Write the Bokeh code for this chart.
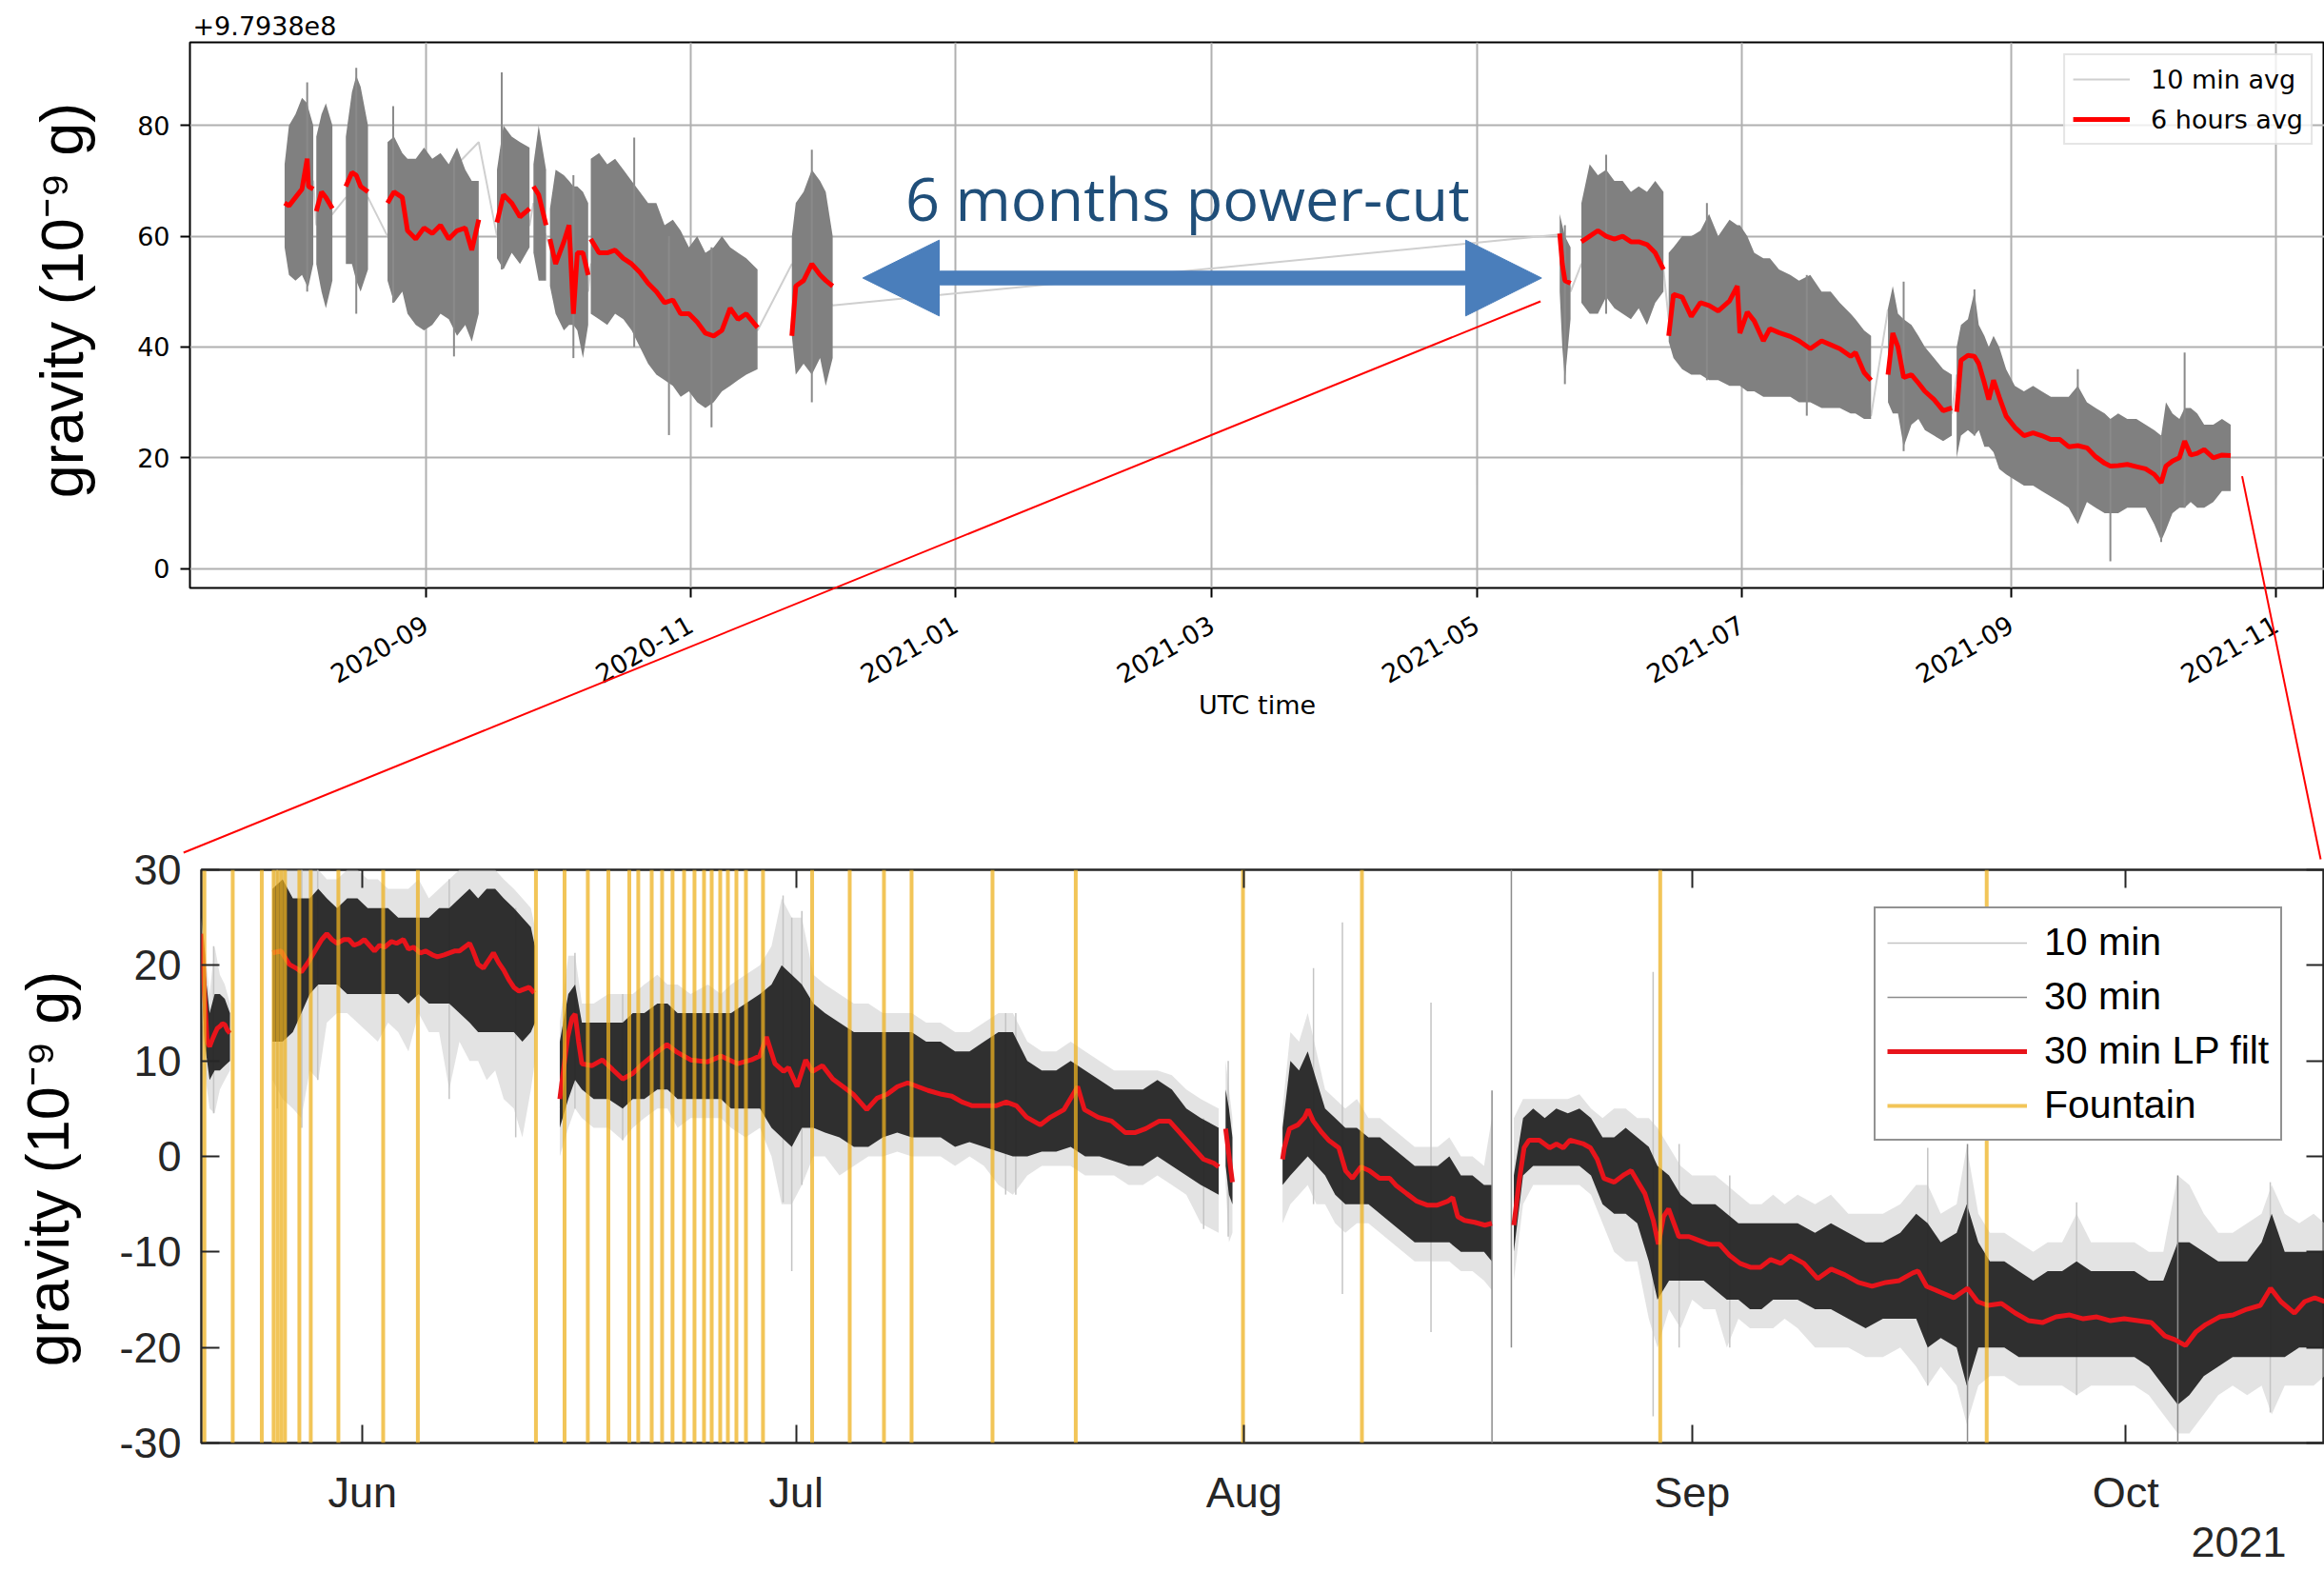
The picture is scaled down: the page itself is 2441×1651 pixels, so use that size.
import math
import numpy as np
from bokeh.plotting import figure
from bokeh.layouts import column
from bokeh.models import (Range1d, FixedTicker, DatetimeTickFormatter, Legend, LegendItem,
                          GridBox, LinearAxis, DatetimeAxis)
from bokeh.embed import file_html
from bokeh.resources import INLINE
from bokeh.core.properties import value

# ======================= TOP PANEL DATA (days since 2020-09-01) =======================
TOP_BASE = "2020-09-01"
top_tick_labels = ["2020-09", "2020-11", "2021-01", "2021-03", "2021-05", "2021-07", "2021-09", "2021-11"]
top_y_ticks = [0, 20, 40, 60, 80]
top_offset_text = "+9.7938e8"

top_day = [
    -32.5, -31.5, -30.0, -28.5, -27.3, -27.0, -25.9, None,
    -25.2, -24.0, -23.0, -21.5, None,
    -18.4, -17.0, -16.0, -15.0, -13.3, None,
    -8.8, -7.3, -5.4, -4.2, -2.3, -0.4, 1.5, 3.4, 5.3, 7.2, 9.1, 10.6, 12.2, None,
    16.4, 17.9, 19.8, 21.7, 23.9, None,
    24.8, 26.0, 27.7, None,
    28.6, 29.9, 31.8, 33.0, 34.0, 34.9, 36.2, 37.4, None,
    38.0, 39.9, 41.8, 43.6, 45.5, 47.4, 49.3, 51.2, 53.1, 55.0, 56.9, 58.7, 60.6, 62.5, 64.4, 66.3, 68.2, 70.1, 71.9, 73.8, 76.4, None,
    84.3, 85.2, 87.0, 88.9, 90.8, 92.1, 93.7, None,
    261.1, 261.7, 262.3, 263.6, None,
    266.1, 268.0, 269.9, 271.8, 273.7, 275.6, 277.5, 279.3, 281.2, 283.1, 285.0, None,
    286.2, 287.3, 289.3, 291.4, 293.5, 295.5, 297.6, 300.2, 302.0, 302.6, 304.3, 305.9, 308.0, 309.5, 311.6, 314.2, 316.2, 318.8, 321.4, 323.5, 325.6, 328.1, 329.2, 331.2, 332.8, None,
    336.7, 337.8, 339.0, 340.3, 342.1, 343.7, 345.2, 347.3, 349.4, 351.4, None,
    352.5, 353.5, 355.1, 356.6, 357.6, 358.9, 359.9, 361.0, 362.3, 363.9, 365.9, 368.0, 370.1, 372.1, 374.2, 376.3, 378.3, 380.4, 382.5, 384.5, 386.6, 387.9, 389.7, 391.8, 393.9, 396.0, 398.0, 399.6, 400.7, 402.2, 403.8, 405.0, 406.4, 407.9, 409.5, 411.6, 413.6, 415.6,
]
top_hi = [
    73, 80, 82, 85, 84, 83, 80, None,
    78, 82, 84, 80, None,
    78, 86, 89, 87, 80, None,
    77, 78, 75, 74, 74, 76, 74, 75, 73, 76, 72, 70, 70, None,
    72, 80, 78, 77, 76, None,
    73, 80, 72, None,
    65, 72, 71, 70, 69, 69, 68, 66, None,
    74, 75, 73, 74, 72, 70, 68, 66, 66, 62, 63, 61, 58, 60, 57, 58, 60, 58, 57, 56, 54, None,
    60, 66, 68, 72, 70, 68, 60, None,
    64, 62, 60, 58, None,
    66, 73, 71, 72, 70, 70, 68, 69, 68, 70, 68, None,
    57, 58, 60, 60, 61, 64, 60, 63, 62, 62, 60, 57, 56, 56, 54, 53, 52, 53, 50, 50, 48, 46, 45, 43, 42, None,
    47, 51, 46, 45, 44, 42, 40, 38, 36, 35, None,
    40, 44, 45, 50, 44, 42, 40, 42, 40, 36, 33, 32, 33, 32, 31, 31, 31, 33, 30, 29, 28, 27, 28, 27, 27, 26, 25, 24, 30, 28, 27, 29, 29, 28, 26, 26, 27, 26,
]
top_lo = [
    58, 53, 52, 53, 51, 51, 55, None,
    55, 50, 47, 52, None,
    55, 55, 52, 50, 54, None,
    52, 48, 50, 46, 44, 43, 44, 46, 45, 42, 44, 41, 46, None,
    56, 54, 57, 55, 58, None,
    57, 52, 52, None,
    51, 46, 43, 44, 44, 43, 38, 44, None,
    46, 45, 44, 46, 45, 43, 40, 37, 35, 34, 33, 31, 32, 30, 29, 30, 32, 33, 34, 35, 36, None,
    42, 35, 37, 35, 38, 33, 38, None,
    50, 40, 34, 45, None,
    48, 46, 46, 49, 47, 46, 45, 47, 44, 48, 50, None,
    41, 38, 36, 35, 35, 34, 34, 33, 33, 33, 32, 32, 31, 31, 31, 31, 30, 30, 29, 29, 29, 28, 28, 27, 27, None,
    30, 28, 28, 22, 26, 27, 25, 24, 23, 24, None,
    20, 24, 25, 24, 25, 22, 22, 21, 18, 17, 16, 15, 15, 14, 13, 12, 11, 8, 12, 11, 10, 10, 10, 11, 11, 11, 8, 5, 7, 10, 11, 11, 12, 11, 11, 12, 14, 14,
]
top_avg = [
    66, 65.5, 67, 68.5, 74, 69, 68.5, None,
    64.5, 68, 67, 65, None,
    69, 71.5, 71, 69, 68, None,
    66, 68, 67, 61, 59.5, 61.5, 60.5, 62, 59.5, 61, 61.5, 57.5, 63, None,
    62.5, 67.5, 66, 63.5, 65, None,
    69, 67.5, 62, None,
    59.5, 55, 59, 62, 46, 57, 57, 53, None,
    59.5, 57, 57, 57.5, 56, 55, 53.5, 51.5, 50, 48, 48.5, 46, 46, 44.5, 42.5, 42, 43, 47, 45, 46, 43.5, None,
    42, 51, 52, 55, 53, 52, 51, None,
    60.5, 55, 52, 51.5, None,
    59, 60, 61, 60, 59.5, 60, 59, 59, 58.5, 57, 54, None,
    42, 49.5, 49, 45.5, 48, 47.5, 46.5, 48.3, 51, 42.5, 46.3, 44.7, 41.1, 43.3, 42.6, 41.9, 41.1, 39.7, 41.1, 40.4, 39.7, 38.3, 39, 35.4, 34, None,
    35, 42.5, 40, 34.5, 35, 33.5, 32, 30.5, 28.5, 29, None,
    28.3, 37.6, 38.5, 38.3, 37, 33.5, 30.5, 34, 31, 27.5, 25.5, 24, 24.5, 24, 23.3, 23.3, 22, 22.2, 21.8, 20.2, 19, 18.5, 18.6, 18.8, 18.4, 18, 17, 15.5, 18.5, 19.4, 20, 23, 20.5, 20.8, 21.5, 20, 20.5, 20.4,
]
# raw 10-min trace across the data gaps (segment end -> next segment start)
top_link_day = [-32.5, -25.9, -25.2, -21.5, -18.4, -13.3, -8.8, 12.2, 16.4, 23.9, 24.8, 27.7, 28.6, 37.4, 38.0,
                76.4, 84.3, 93.7, 261.1, 263.6, 266.1, 285.0, 286.2, 332.8, 336.7, 351.4, 352.5, 415.6]
top_link_val = [66, 70, 62, 64, 67, 67, 60, 77, 60, 62, 66, 60, 58, 50, 55,
                43, 55, 47.5, 60.3, 50, 55, 54, 45, 27.6, 46.8, 28, 35, 20]
# isolated 10-min spikes
top_spk_day = [-27.3, -16.0, -7.5, 6.5, 17.5, 34.0, 48.0, 56.0, 65.8, 88.9, 262.3, 271.8, 295.0, 318.0, 340.3, 356.6, 380.4, 387.9, 399.6, 405.0]
top_spk_lo = [50, 46, 48, 38.3, 54, 38, 40, 24.1, 25.5, 30, 33.3, 46, 34, 27.6, 21.2, 24, 8.4, 1.3, 4.8, 11]
top_spk_hi = [87.8, 90.4, 83.5, 74, 89.6, 71, 77.8, 60, 58, 75.6, 62, 74.7, 66, 53, 51.8, 50.4, 36, 27, 24, 39]

# ======================= BOTTOM PANEL DATA (days since 2021-06-01) =======================
BOT_BASE = "2021-06-01"
bot_tick_labels = ["Jun", "Jul", "Aug", "Sep", "Oct"]
bot_tick_dates = ["2021-06-01", "2021-07-01", "2021-08-01", "2021-09-01", "2021-10-01"]
bot_y_ticks = [-30, -20, -10, 0, 10, 20, 30]
bot_year_label = "2021"

# 30 min LP filtered
lp_day = [
    -11.17, -11.05, -10.93, -10.75, -10.58, -10.4, -10.23, -10.05, -9.87, -9.7, -9.53, -9.35, -9.17, None,
    -6.23, -5.64, -5.06, -4.59, -4.23, -3.76, -3.29, -2.82, -2.47, -2.12, -1.76, -1.29, -0.94, -0.59, -0.23, 0.12,
    0.47, 0.83, 1.18, 1.53, 2.0, 2.36, 2.83, 3.18, 3.53, 4.0, 4.36, 4.83, 5.18, 5.65, 6.0, 6.36, 6.71, 7.06, 7.41,
    7.65, 8.0, 8.36, 8.71, 9.06, 9.41, 9.77, 10.12, 10.47, 10.83, 11.18, 11.53, 11.88, None,
    13.65, 13.9, 14.2, 14.5, 14.71, 14.95, 15.18, 15.89, 16.59, 17.30, 18.0, 18.71, 19.41, 20.36, 21.06, 21.77, 22.71,
    23.88, 24.82, 25.95, 26.89, 27.48, 27.95, 28.54, 29.13, 29.48, 30.07, 30.66, 31.13, 31.83, 32.54, 33.25, 33.95,
    34.89, 35.6, 36.3, 37.01, 37.72, 38.42, 39.13, 40.07, 40.77, 41.48, 42.19, 42.89, 43.83, 44.54, 45.25, 45.95,
    46.89, 47.6, 48.54, 49.48, 49.95, 50.89, 51.83, 52.77, 53.48, 54.19, 55.13, 55.83, 56.54, 57.48, 58.19, 58.89, 59.24, None,
    59.72, 59.95, 60.19, None,
    63.66, 63.78, 64.14, 64.72, 65.19, 65.43, 65.78, 66.37, 66.84, 67.55, 68.02, 68.49, 69.08, 69.66, 70.37, 71.08,
    71.55, 72.25, 72.96, 73.66, 74.37, 75.08, 75.43, 75.78, 76.25, 76.96, 77.66, 78.14, None,
    79.66, 80.02, 80.37, 80.72, 81.43, 82.14, 82.61, 83.08, 83.55, 84.02, 84.49, 84.96, 85.43, 85.9, 86.61, 87.31,
    87.78, 88.25, 88.73, 89.31, 89.66, 90.02, 90.37, 91.08, 91.78, 92.49, 93.19, 93.9, 94.61, 95.31, 96.02, 96.72,
    97.43, 98.14, 98.79, 99.73, 100.68, 101.62, 102.56, 103.5, 104.45, 105.39, 106.33, 107.27, 107.63, 108.22,
    109.16, 110.1, 111.05, 111.75, 112.46, 113.4, 114.35, 115.29, 116.23, 117.17, 118.12, 119.06, 120.0, 120.94,
    121.89, 122.83, 123.77, 124.71, 125.42, 126.13, 126.84, 127.54, 128.49, 129.43, 130.37, 131.31, 132.02, 132.73,
    133.67, 134.38, 135.08, 135.75,
]
lp_val = [
    23.3, 21, 17, 12, 11.5, 12.2, 12.8, 13.4, 13.6, 13.9, 13.8, 13.2, 12.9, None,
    21.3, 21.5, 20.1, 19.7, 19.3, 20.3, 21.5, 22.7, 23.3, 22.7, 22.3, 22.7, 22.7, 22.1, 22.3, 22.7,
    22.1, 21.5, 22.1, 21.9, 22.5, 22.3, 22.7, 21.7, 21.9, 21.3, 21.5, 21.1, 20.9, 21.1, 21.3, 21.5, 21.5, 21.9, 22.3,
    21.5, 20.1, 19.7, 20.5, 21.3, 20.3, 19.5, 18.5, 17.7, 17.3, 17.5, 17.7, 17.1, None,
    6, 9, 12.5, 14.5, 14.9, 12, 9.7, 9.5, 10.1, 9.1, 8.1, 8.7, 9.7, 10.9, 11.7, 10.9, 10.1,
    9.9, 10.5, 9.7, 10.1, 10.5, 12.5, 9.7, 8.9, 9.3, 7.3, 10.1, 8.9, 9.5, 8.1, 7.3, 6.5,
    4.9, 6.1, 6.5, 7.3, 7.7, 7.3, 6.9, 6.5, 6.3, 5.7, 5.3, 5.3, 5.3, 5.7, 5.3, 4.1,
    3.3, 4.1, 4.9, 7.3, 4.9, 4.1, 3.7, 2.5, 2.5, 2.9, 3.7, 3.7, 2.5, 0.9, -0.3, -0.7, -1.1, None,
    2.9, 0.1, -2.7, None,
    -0.3, 0.9, 2.9, 3.3, 4.1, 4.9, 3.7, 2.5, 1.7, 0.9, -1.5, -2.3, -1.1, -1.5, -2.3, -2.3,
    -3.1, -3.9, -4.7, -5.1, -5.1, -4.7, -4.3, -6.3, -6.7, -6.9, -7.2, -7.0, None,
    -7.2, -2.7, 0.9, 1.7, 1.7, 0.9, 1.3, 0.9, 1.7, 1.5, 1.3, 0.9, -0.3, -2.3, -2.7, -1.9,
    -1.5, -2.7, -3.9, -6.7, -9.2, -6.3, -5.5, -8.4, -8.4, -8.8, -9.2, -9.2, -10.4, -11.2, -11.6, -11.6,
    -10.8, -11.2, -10.4, -11.2, -12.8, -11.8, -12.4, -13.2, -13.6, -13.2, -13.0, -12.2, -12.0, -13.6,
    -14.2, -14.8, -13.8, -15.2, -15.6, -15.4, -16.4, -17.2, -17.4, -16.8, -16.6, -17.0, -16.8, -17.2,
    -17.0, -17.2, -17.4, -18.8, -19.2, -19.8, -18.4, -17.6, -16.8, -16.6, -16.0, -15.6, -13.8, -15.2,
    -16.4, -15.2, -14.8, -15.2,
]

# noise envelopes: 30 min (dark) and 10 min (light)
band_day = [
    -11.17, -10.93, -10.58, -10.23, -9.87, -9.53, -9.17, None,
    -6.23, -5.53, -4.82, -4.23, -3.65, -3.06, -2.47, -1.76, -1.06, -0.35, 0.36, 1.06, 1.77, 2.47, 3.18, 3.88, 4.59,
    5.30, 6.00, 6.71, 7.41, 8.00, 8.59, 9.18, 9.77, 10.47, 11.06, 11.65, 11.93, None,
    13.65, 14.24, 14.71, 15.18, 16.0, 17.0, 18.0, 18.7, 19.5, 20.4, 21.1, 21.8, 22.7, 23.9, 24.8, 25.5, 26.5, 27.5,
    28.3, 29.0, 29.7, 30.4, 31.2, 32.0, 33.0, 34.0, 35.0, 36.0, 37.0, 38.0, 39.0, 40.0, 41.0, 42.0, 43.0, 44.0,
    45.0, 46.0, 47.0, 48.0, 49.0, 50.0, 51.0, 52.0, 53.0, 54.0, 55.0, 56.0, 57.0, 58.0, 59.24, None,
    59.72, 59.95, 60.19, None,
    63.66, 64.2, 64.8, 65.4, 66.0, 66.6, 67.3, 68.0, 68.8, 69.6, 70.4, 71.2, 72.0, 72.8, 73.6, 74.4, 75.2, 76.0,
    76.8, 77.6, 78.14, None,
    79.66, 80.3, 81.0, 81.8, 82.6, 83.4, 84.2, 85.0, 85.8, 86.6, 87.4, 88.2, 89.0, 89.6, 90.4, 91.2, 92.0, 92.8,
    93.6, 94.4, 95.2, 96.0, 96.8, 97.6, 98.4, 99.3, 100.5, 101.6, 102.8, 104.0, 105.2, 106.4, 107.5, 108.3, 109.2,
    110.3, 111.0, 111.8, 112.6, 113.6, 114.6, 115.6, 116.6, 117.6, 118.6, 119.6, 120.6, 121.6, 122.6, 123.6, 124.6,
    125.6, 126.4, 127.4, 128.4, 129.4, 130.4, 131.4, 132.1, 133.0, 134.0, 135.0, 135.75,
]
dark_hi = [
    24, 20, 15, 17, 17, 16.5, 15, None,
    28, 29, 27, 27, 27, 28, 27, 26, 27, 27, 26, 26, 26, 25, 25, 25, 25,
    26, 26, 27, 28, 27, 28, 28, 27, 26, 25, 24, 22, None,
    12, 17, 18, 14, 14, 14, 14, 15, 15, 16, 16, 15, 15, 15, 15, 15, 16, 17,
    18, 20, 19, 18, 16, 15, 14, 13, 13, 13, 13, 13, 12, 12, 11, 11, 12, 13,
    13, 10, 9, 9, 10, 9, 8, 7, 7, 7, 8, 7, 5, 4, 3, None,
    7, 5, 2, None,
    3, 10, 9, 11, 8, 5, 4, 3, 3, 2, 2, 1, 0, -1, -1, -1, 0, -2,
    -2, -3, -3, None,
    -2, 4, 5, 4, 5, 4.5, 5, 4, 2, 2, 3, 2, 1, -1, -2, -4, -5, -5,
    -5, -6, -7, -7, -7, -7, -7, -7, -8, -7, -8, -9, -9, -8, -6, -7, -9,
    -8, -5, -9, -11, -11, -12, -13, -12, -12, -11, -12, -12, -12, -12, -13, -13,
    -9, -9, -10, -11, -11, -11, -9, -6, -10, -10, -10, -10,
]
dark_lo = [
    21, 12, 8, 9, 9, 9.5, 10, None,
    12, 12, 13, 15, 17, 18, 18, 18, 17, 17, 17, 17, 17, 17, 16, 17, 16,
    16, 16, 15, 14, 13, 13, 13, 13, 13, 12, 13, 14, None,
    3, 6, 8, 7, 6, 6, 5, 6, 6, 7, 7, 6, 6, 6, 6, 5, 5, 5,
    3, 2, 1, 3, 3, 2.5, 2, 1, 1, 2, 2.5, 2, 2, 2, 1, 1.5, 1, 0.5,
    0, 0, 0.5, 0.5, 1, 0, 0, -0.5, -1, -1, 0, -1, -2, -3, -4, None,
    -1, -4, -5, None,
    -3, -2, -1, 0, -1, -2, -4, -5, -5, -5, -6, -7, -8, -9, -9, -9, -9, -10,
    -10, -10, -11, None,
    -10, -2, -1, -1, -1, -1, -1, -2, -5, -6, -6, -7, -11, -15, -13, -13, -13, -13,
    -14, -15, -15, -16, -16, -15, -15, -15, -16, -16, -17, -18, -17, -17, -17, -20, -19,
    -20, -24, -20, -20, -20, -21, -21, -21, -21, -21, -21, -21, -21, -21, -22, -24,
    -26, -25, -23, -22, -21, -21, -21, -21, -21, -20, -20, -20,
]
light_hi = [
    25, 22, 17, 22, 19, 18, 16, None,
    30, 30, 30, 30, 30, 30, 29, 29, 30, 30, 29, 29, 28, 28, 28, 29, 27,
    28, 29, 30, 30, 30, 30, 30, 29, 28, 27, 26, 24, None,
    14, 21, 21, 16, 16, 17, 17, 17, 18, 19, 18, 18, 17, 18, 17, 18, 19, 20,
    22, 27, 25, 25, 19, 18, 17, 16, 16, 15, 15, 15, 14, 14, 13, 13, 14, 15,
    15, 12, 11, 11, 12, 11, 10, 9, 9, 9, 9, 8.5, 7, 6, 5, None,
    10, 7, 4, None,
    5, 13, 12, 15, 11, 7, 6, 5, 6, 4, 4, 3, 2, 1, 1, 1, 2, 0,
    0, -1, 4, None,
    4, 6, 6, 6, 6, 6, 6.5, 5, 4, 5, 5, 4, 4, 3, 1, -1, -2, -2,
    -2, -3, -4, -5, -5, -4, -5, -4, -5, -4, -6, -6, -6, -5, -3, -3, -6,
    -5, 1, -6, -8, -8, -9, -10, -9, -9, -6, -9, -9, -9, -9, -10, -10,
    -2, -3, -6, -8, -8, -7, -6, -3, -6, -7, -6, -7,
]
light_lo = [
    18, 9, 5, 4.5, 7, 8, 9, None,
    8, 6, 5, 4, 9, 8, 14, 15, 15, 14, 13, 12, 14, 13, 11, 15, 13,
    13, 7, 12, 10, 10, 8, 9, 6, 5, 2, 7, 10, None,
    0, 3, 5, 4, 3, 3, 1.7, 3, 4, 5, 5, 3, 4, 4, 4, 3, 2, 3,
    0, -5, -5, -3, 0, 0, -2, -1, 0, 0, 0.5, 0, 0, 0, -1, 0, -1, -3,
    -4, -2, -1, -1, -1, -2, -2, -2, -3, -3, -2, -3, -4, -7, -8, None,
    -3, -9, -8, None,
    -7, -5, -4, -3, -5, -5, -7, -8, -7, -7, -8, -9, -10, -11, -11, -11, -11, -12,
    -12, -13, -14, None,
    -13, -5, -3, -3, -3, -3, -3, -4, -7, -10, -11, -11, -17, -20, -16, -18, -15, -16,
    -16, -20, -17, -18, -18, -18, -17, -18, -20, -20, -20, -21, -21, -20, -22, -24, -22,
    -24, -28, -24, -23, -23, -24, -24, -24, -24, -25, -24, -24, -24, -24, -25, -27,
    -29, -29, -27, -25, -24, -25, -24, -27, -24, -24, -24, -23,
]
# isolated spikes of the 10 min and 30 min series
spk10_day = [-10.3, -5.9, -4.2, -3.1, 6.0, 10.6, 14.7, 18.0, 29.1, 29.7, 30.4, 44.5, 45.2, 58.2, 59.9, 65.8, 67.8,
             73.93, 89.3, 91.1, 94.6, 108.3, 118.6, 132.0]
spk10_lo = [4.5, 5, 3, 8, 6, 2, 5, 1.7, -4.8, -12, -3, -4, -4, -7.6, -8.4, -5, -14.4, -18.4, -27.2, -20, -20, -24, -25, -26.8]
spk10_hi = [22, 30, 30, 30, 29, 26, 21.3, 17, 27.3, 25, 25.7, 15, 15, 4, 10, 19.7, 24.5, 16.1, 19.3, 1.3, -2, 0.9, -4.8, -2.7]
spk30_day = [78.15, 79.49, 111.05, 125.6]
spk30_lo = [-30, -20, -30, -30]
spk30_hi = [6.9, 30, 1.3, -2]

# fountain events
fountain_day = [-10.94, -8.98, -6.97, -6.15, -5.88, -5.62, -5.36, -4.37, -3.58, -1.67, 1.43, 3.83, 12.0, 13.98,
                15.59, 17.01, 18.46, 19.08, 20.01, 20.73, 21.45, 22.25, 22.97, 23.63, 24.16, 24.75, 25.28, 25.87,
                26.53, 27.71, 31.11, 33.71, 36.08, 37.99, 43.59, 49.35, 60.92, 69.15, 89.79, 112.38]


# ======================= helpers =======================
DAY_MS = 86400000.0


def ms(base, d):
    return float(np.datetime64(base, "ms").astype("int64")) + float(d) * DAY_MS


def check(name, *lists):
    n = len(lists[0])
    if any(len(l) != n for l in lists):
        raise ValueError(f"{name}: lengths {[len(l) for l in lists]}")
    for i in range(n):
        f = [l[i] is None for l in lists]
        if any(f) and not all(f):
            raise ValueError(f"{name}: None mismatch at {i}")


def gapped(base, days, vals):
    xs, ys = [], []
    for d, v in zip(days, vals):
        if d is None:
            xs.append(np.nan); ys.append(np.nan)
        else:
            xs.append(ms(base, d)); ys.append(v)
    return xs, ys


def segments(base, days, *cols):
    out, cur = [], None
    for i, d in enumerate(days):
        if d is None:
            cur = None
            continue
        if cur is None:
            cur = [[] for _ in range(len(cols) + 1)]
            out.append(cur)
        cur[0].append(ms(base, d))
        for k, c in enumerate(cols):
            cur[k + 1].append(c[i])
    return out


check("top", top_day, top_hi, top_lo, top_avg)
check("lp", lp_day, lp_val)
check("band", band_day, dark_hi, dark_lo, light_hi, light_lo)
check("spk10", spk10_day, spk10_lo, spk10_hi)
check("toplink", top_link_day, top_link_val)

W, H = 2441, 1651
TOP_H = 885
BOT_H = H - TOP_H

# ======================= TOP FIGURE =======================
top = figure(width=W, height=TOP_H, x_axis_type="datetime", output_backend="svg", toolbar_location=None,
             x_range=Range1d(ms(TOP_BASE, -54.3), ms(TOP_BASE, 437.2)), y_range=Range1d(-3.5, 95.0),
             min_border_left=199, min_border_right=0, min_border_top=44, min_border_bottom=TOP_H - 617)
top.background_fill_color = "white"
top.border_fill_color = "white"
top.outline_line_color = "black"
top.outline_line_width = 2

top_ticks_ms = [ms(lbl + "-01", 0) for lbl in top_tick_labels]
top.xaxis.ticker = FixedTicker(ticks=top_ticks_ms)
fmt = "%Y-%m"
top.xaxis.formatter = DatetimeTickFormatter(milliseconds=fmt, seconds=fmt, minsec=fmt, minutes=fmt, hourmin=fmt,
                                            hours=fmt, days=fmt, months=fmt, years=fmt)
top.yaxis.ticker = FixedTicker(ticks=top_y_ticks)
for ax in (top.xaxis[0], top.yaxis[0]):
    ax.major_label_text_font = "DejaVu Sans"
    ax.major_label_text_font_size = "27px"
    ax.major_label_text_color = "black"
    ax.major_tick_in = 0
    ax.major_tick_out = 10
    ax.major_tick_line_width = 2
    ax.major_tick_line_color = "black"
    ax.minor_tick_line_color = None
    ax.axis_line_color = None
    ax.major_label_standoff = 11
top.xaxis.major_label_orientation = math.pi / 6
top.xaxis.major_label_standoff = 26
top.xaxis.axis_label = "UTC time"
top.xaxis.axis_label_text_font = "DejaVu Sans"
top.xaxis.axis_label_text_font_size = "27px"
top.xaxis.axis_label_text_font_style = "normal"
top.xaxis.axis_label_text_color = "black"
top.xaxis.axis_label_standoff = -5
top.grid.grid_line_color = "#b0b0b0"
top.grid.grid_line_width = 2

lx, ly = [ms(TOP_BASE, d) for d in top_link_day], top_link_val
r_link = top.line(lx, ly, line_color="#cfcfcf", line_width=2)
for seg in segments(TOP_BASE, top_day, top_hi, top_lo):
    top.varea(x=seg[0], y1=seg[1], y2=seg[2], fill_color="#808080", fill_alpha=1.0)
top.segment(x0=[ms(TOP_BASE, d) for d in top_spk_day], y0=top_spk_lo,
            x1=[ms(TOP_BASE, d) for d in top_spk_day], y1=top_spk_hi, line_color="#8a8a8a", line_width=2)
ax_, ay_ = gapped(TOP_BASE, top_day, top_avg)
r_avg = top.line(ax_, ay_, line_color="#ff0000", line_width=5)

leg_top = Legend(items=[LegendItem(label="10 min avg", renderers=[r_link]),
                        LegendItem(label="6 hours avg", renderers=[r_avg])],
                 location="top_right", margin=12, padding=8, spacing=8,
                 label_text_font="DejaVu Sans", label_text_font_size="27px", label_text_color="black",
                 glyph_width=60, glyph_height=34, label_height=34, label_standoff=22,
                 border_line_color="#cccccc", border_line_width=2, background_fill_alpha=0.8)
top.add_layout(leg_top)

# ======================= BOTTOM FIGURE =======================
AX_COL = "#262626"
BOT_Y0, BOT_Y1 = -30, 30
bot = figure(width=W, height=BOT_H, x_axis_type="datetime", output_backend="svg", toolbar_location=None,
             x_range=Range1d(ms(BOT_BASE, -11.15), ms(BOT_BASE, 135.75)), y_range=Range1d(BOT_Y0, BOT_Y1),
             min_border_left=211, min_border_right=0, min_border_top=913 - TOP_H, min_border_bottom=136)
bot.background_fill_color = "white"
bot.border_fill_color = "white"
bot.outline_line_color = AX_COL
bot.outline_line_width = 2.5
bot.grid.visible = False

bot_ticks_ms = [ms(d, 0) for d in bot_tick_dates]
bfmt = "%b"
bot_formatter = DatetimeTickFormatter(milliseconds=bfmt, seconds=bfmt, minsec=bfmt, minutes=bfmt, hourmin=bfmt,
                                      hours=bfmt, days=bfmt, months=bfmt, years=bfmt)
bot.xaxis.ticker = FixedTicker(ticks=bot_ticks_ms)
bot.xaxis.formatter = bot_formatter
bot.yaxis.ticker = FixedTicker(ticks=bot_y_ticks)
bot.yaxis.major_label_overrides = {t: str(t) for t in bot_y_ticks}
for ax in (bot.xaxis[0], bot.yaxis[0]):
    ax.major_label_text_font = "Liberation Sans"
    ax.major_label_text_font_size = "45px"
    ax.major_label_text_color = AX_COL
    ax.major_tick_in = 19
    ax.major_tick_out = 0
    ax.major_tick_line_width = 2
    ax.major_tick_line_color = AX_COL
    ax.minor_tick_line_color = None
    ax.axis_line_color = None
bot.xaxis.major_label_standoff = 26
bot.yaxis.major_label_standoff = 21

# box ticks on the right and top edges (labels not drawn)
r_axis = LinearAxis(ticker=FixedTicker(ticks=bot_y_ticks), major_tick_in=19, major_tick_out=0,
                    major_tick_line_width=2, major_tick_line_color=AX_COL, minor_tick_line_color=None,
                    axis_line_color=None, major_label_text_color=None, major_label_text_font_size="1px",
                    major_label_standoff=0)
bot.add_layout(r_axis, "right")
t_axis = DatetimeAxis(ticker=FixedTicker(ticks=bot_ticks_ms), formatter=bot_formatter, major_tick_in=19,
                      major_tick_out=0, major_tick_line_width=2, major_tick_line_color=AX_COL,
                      minor_tick_line_color=None, axis_line_color=None, major_label_text_color=None,
                      major_label_text_font_size="1px", major_label_standoff=0)
bot.add_layout(t_axis, "above")

for seg in segments(BOT_BASE, band_day, light_hi, light_lo):
    bot.varea(x=seg[0], y1=seg[1], y2=seg[2], fill_color="#c8c8c8", fill_alpha=0.5)
s10x = [ms(BOT_BASE, d) for d in spk10_day]
r10 = bot.segment(x0=s10x, y0=spk10_lo, x1=s10x, y1=spk10_hi, line_color="#c4c4c4", line_width=1.5)
for seg in segments(BOT_BASE, band_day, dark_hi, dark_lo):
    bot.varea(x=seg[0], y1=seg[1], y2=seg[2], fill_color="#202020", fill_alpha=0.92)
s30x = [ms(BOT_BASE, d) for d in spk30_day]
r30 = bot.segment(x0=s30x, y0=spk30_lo, x1=s30x, y1=spk30_hi, line_color="#8c8c8c", line_width=1.5)
lpx, lpy = gapped(BOT_BASE, lp_day, lp_val)
r_lp = bot.line(lpx, lpy, line_color="#e8141b", line_width=5)
fx = [ms(BOT_BASE, d) for d in fountain_day]
r_f = bot.segment(x0=fx, y0=[BOT_Y0] * len(fx), x1=fx, y1=[BOT_Y1] * len(fx),
                  line_color="#EDB120", line_alpha=0.75, line_width=4)

leg_bot = Legend(items=[LegendItem(label="10 min", renderers=[r10]),
                        LegendItem(label="30 min", renderers=[r30]),
                        LegendItem(label="30 min LP filt", renderers=[r_lp]),
                        LegendItem(label="Fountain", renderers=[r_f])],
                 location=(1757, 317), padding=12, spacing=10, margin=0,
                 label_text_font="Liberation Sans", label_text_font_size="41px", label_text_color="black",
                 glyph_width=147, glyph_height=44, label_height=44, label_standoff=18,
                 border_line_color=AX_COL, border_line_width=2, background_fill_color="white",
                 background_fill_alpha=1.0)
bot.add_layout(leg_bot)

# ======================= OVERLAY (annotations in page pixels) =======================
ov = figure(width=W, height=H, x_range=Range1d(0, W), y_range=Range1d(H, 0), output_backend="svg",
            toolbar_location=None, min_border=0, x_axis_type=None, y_axis_type=None)
ov.background_fill_color = None
ov.border_fill_color = None
ov.outline_line_color = None

arrow_x = [905.7, 986, 986, 1539, 1539, 1618.7, 1539, 1539, 986, 986]
arrow_y = [291.5, 251.7, 284.3, 284.3, 251.7, 291.5, 331.3, 298.7, 298.7, 331.3]
ov.patch(arrow_x, arrow_y, fill_color="#4A7EBB", line_color="#4A7EBB", line_width=1)
ov.segment(x0=[1617.6, 2354.5], y0=[316, 499.6], x1=[192.3, 2437], y1=[895, 902],
           line_color="#ff0000", line_width=2)
ov.text(x=[950.5], y=[207.3], text=["6 months power-cut"], text_font=value("Open Sans"),
        text_font_size="63px", text_color="#1F4E79", text_align="left", text_baseline="alphabetic")
ov.text(x=[64.6, 49.0], y=[315, 1227], text=["gravity (10\u207b\u2079 g)", "gravity (10\u207b\u2079 g)"],
        angle=math.pi / 2, text_font=value("Liberation Sans"), text_font_size="63px", text_color="black",
        text_align="center", text_baseline="middle")
ov.text(x=[202], y=[26], text=[top_offset_text], text_font=value("DejaVu Sans"), text_font_size="27px",
        text_color="black", text_align="left", text_baseline="middle")
ov.text(x=[2351], y=[1619], text=[bot_year_label], text_font=value("Liberation Sans"), text_font_size="45px",
        text_color=AX_COL, text_align="center", text_baseline="middle")

# each figure wrapped on its own so the two frames keep their own left borders
main = column(column(top, spacing=0), column(bot, spacing=0), spacing=0)
layout = GridBox(children=[(main, 0, 0), (ov, 0, 0)], spacing=0)

open("out.html", "w").write(file_html(layout, INLINE))
